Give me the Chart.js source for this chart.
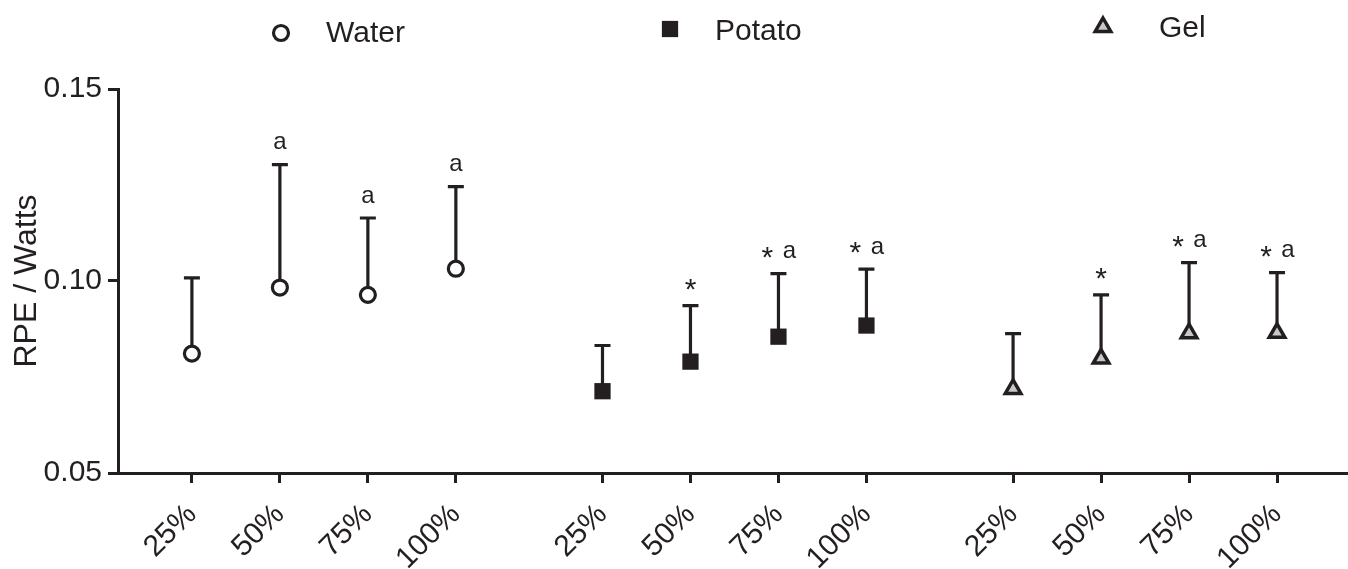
<!DOCTYPE html>
<html>
<head>
<meta charset="utf-8">
<title>RPE / Watts</title>
<script src="https://cdn.jsdelivr.net/npm/chart.js@4.4.1/dist/chart.umd.min.js"></script>
<style>
    html, body { margin: 0; padding: 0; background: #ffffff; }
    canvas { display: block; }
</style>
</head>
<body>
<canvas id="chart" width="1348" height="569"></canvas>
<script>
// values
const stageLabels = ["25%", "50%", "75%", "100%"];
const groupNames = ["Water", "Potato", "Gel"];

const waterMean = [0.0811, 0.0983, 0.0964, 0.1032];
const waterUpper = [0.1008, 0.1303, 0.1164, 0.1246];
const potatoMean = [0.0713, 0.0790, 0.0855, 0.0884];
const potatoUpper = [0.0832, 0.0936, 0.1019, 0.1031];
const gelMean = [0.0719, 0.0798, 0.0864, 0.0865];
const gelUpper = [0.0863, 0.0964, 0.1048, 0.1022];

const waterMarks = ["", "a", "a", "a"];
const potatoMarks = ["", "*", "* a", "* a"];
const gelMarks = ["", "*", "* a", "* a"];

const yTicks = [0.05, 0.10, 0.15];

const INK = "#231f20";
const FONT = "'Liberation Sans', Arial, Helvetica, sans-serif";
const GROUP_STEP = 14 / 3; // groups are spread a bit more than one slot apart

const xPos = (g, i) => g * GROUP_STEP + i;
const allTicks = [];
groupNames.forEach((n, g) => stageLabels.forEach((l, i) => allTicks.push({ value: xPos(g, i), label: l })));

const toPoints = (g, arr) => arr.map((v, i) => ({ x: xPos(g, i), y: v }));

const datasets = [
    {
        label: "Water",
        data: toPoints(0, waterMean),
        upper: waterUpper,
        marks: waterMarks,
        pointStyle: "circle",
        pointRadius: 7.5,
        pointBorderWidth: 3.2,
        pointBackgroundColor: "#ffffff",
        pointBorderColor: INK,
    },
    {
        label: "Potato",
        data: toPoints(1, potatoMean),
        upper: potatoUpper,
        marks: potatoMarks,
        pointStyle: "rect",
        pointRadius: 11.5,
        pointBorderWidth: 0,
        pointBackgroundColor: INK,
        pointBorderColor: INK,
    },
    {
        label: "Gel",
        data: toPoints(2, gelMean),
        upper: gelUpper,
        marks: gelMarks,
        pointStyle: "triangle",
        pointRadius: 9,
        pointBorderWidth: 3.5,
        pointBackgroundColor: "#c8c8c8",
        pointBorderColor: INK,
    },
];

// upper error bars + significance letters
const errorBars = {
    id: "errorBars",
    beforeDatasetsDraw(chart) {
        const { ctx, scales: { x, y } } = chart;
        ctx.save();
        ctx.strokeStyle = INK;
        ctx.lineWidth = 3.2;
        chart.data.datasets.forEach((ds) => {
            ds.data.forEach((p, i) => {
                const px = x.getPixelForValue(p.x);
                const py = y.getPixelForValue(p.y);
                const top = y.getPixelForValue(ds.upper[i]);
                ctx.beginPath();
                ctx.moveTo(px, py);
                ctx.lineTo(px, top);
                ctx.moveTo(px - 8, top);
                ctx.lineTo(px + 8, top);
                ctx.stroke();
            });
        });
        ctx.restore();
    },
    afterDatasetsDraw(chart) {
        const { ctx, scales: { x, y } } = chart;
        ctx.save();
        ctx.fillStyle = INK;
        ctx.textAlign = "center";
        ctx.textBaseline = "middle";
        chart.data.datasets.forEach((ds) => {
            ds.data.forEach((p, i) => {
                const m = ds.marks[i];
                if (!m) return;
                const px = x.getPixelForValue(p.x);
                const top = y.getPixelForValue(ds.upper[i]);
                const hasStar = m.includes("*");
                const hasA = m.includes("a");
                const both = hasStar && hasA;
                if (hasStar) {
                    ctx.font = "30px " + FONT;
                    ctx.fillText("*", px + (both ? -11 : 0), top - 15);
                }
                if (hasA) {
                    ctx.font = "24px " + FONT;
                    ctx.fillText("a", px + (both ? 11 : 0), top - 22);
                }
            });
        });
        ctx.restore();
    },
};

// legend spread across the top, one item per group
const topLegend = {
    id: "topLegend",
    afterDraw(chart) {
        const { ctx } = chart;
        const spots = [
            { mx: 281, my: 33, tx: 326, ty: 42 },
            { mx: 670, my: 29, tx: 715, ty: 40 },
            { mx: 1103, my: 27, tx: 1159, ty: 37 },
        ];
        ctx.save();
        chart.data.datasets.forEach((ds, k) => {
            const s = spots[k];
            ctx.fillStyle = ds.pointBackgroundColor;
            ctx.strokeStyle = ds.pointBorderColor;
            ctx.lineWidth = ds.pointBorderWidth;
            Chart.helpers.drawPoint(ctx, {
                pointStyle: ds.pointStyle,
                radius: ds.pointRadius,
                rotation: 0,
                borderWidth: ds.pointBorderWidth,
            }, s.mx, s.my);
            ctx.fillStyle = INK;
            ctx.font = "30px " + FONT;
            ctx.textAlign = "left";
            ctx.textBaseline = "alphabetic";
            ctx.fillText(ds.label, s.tx, s.ty);
        });
        ctx.restore();
    },
};

const chartConfig = {
    type: "scatter",
    data: { datasets: datasets },
    options: {
        responsive: false,
        animation: false,
        layout: {
            autoPadding: false,
            padding: { top: 89, left: 0, right: 0, bottom: 0 },
        },
        plugins: {
            legend: { display: false },
            tooltip: { enabled: false },
        },
        scales: {
            x: {
                type: "linear",
                min: -0.84,
                max: 13.14,
                afterFit: (scale) => { scale.height = 96; },
                afterBuildTicks: (scale) => {
                    scale.ticks = allTicks.map((t) => ({ value: t.value }));
                },
                grid: {
                    drawOnChartArea: false,
                    drawTicks: true,
                    tickLength: 10,
                    tickWidth: 3,
                    color: INK,
                },
                border: { display: true, width: 3, color: INK },
                ticks: {
                    autoSkip: false,
                    minRotation: 45,
                    maxRotation: 45,
                    padding: 14,
                    color: INK,
                    font: { family: FONT, size: 30 },
                    callback: (value, index) => allTicks[index].label,
                },
            },
            y: {
                min: 0.05,
                max: 0.15,
                afterFit: (scale) => { scale.width = 118; },
                afterBuildTicks: (scale) => {
                    scale.ticks = yTicks.map((v) => ({ value: v }));
                },
                grid: {
                    drawOnChartArea: false,
                    drawTicks: true,
                    tickLength: 10,
                    tickWidth: 3,
                    color: INK,
                },
                border: { display: true, width: 3, color: INK },
                ticks: {
                    padding: 6,
                    color: INK,
                    font: { family: FONT, size: 30 },
                    callback: (value) => value.toFixed(2),
                },
                title: {
                    display: true,
                    text: "RPE / Watts",
                    color: INK,
                    padding: { top: 8, bottom: 0 },
                    font: { family: FONT, size: 32, lineHeight: 1.2 },
                },
            },
        },
    },
    plugins: [errorBars, topLegend],
};

new Chart(document.getElementById("chart"), chartConfig);
</script>
</body>
</html>
